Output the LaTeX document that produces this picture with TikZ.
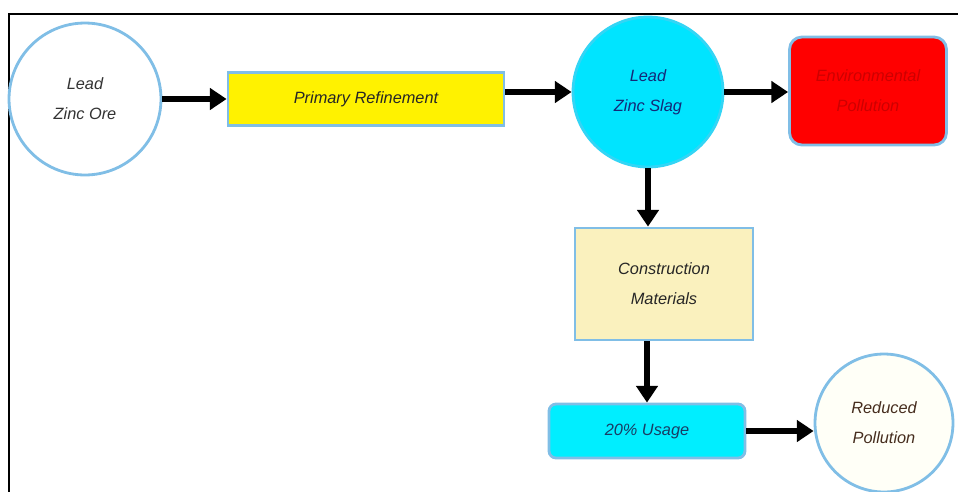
\documentclass[tikz,border=0pt]{standalone}
\usepackage{fontspec}
\setmainfont{Liberation Sans}
\usetikzlibrary{shapes,arrows.meta}

\definecolor{edgeblue}{RGB}{128,190,230}
\definecolor{slagcyan}{RGB}{0,228,255}
\definecolor{usagecyan}{RGB}{0,238,255}
\definecolor{creamfill}{RGB}{250,241,190}
\definecolor{pollred}{RGB}{255,0,0}
\definecolor{pollredtext}{RGB}{205,0,0}
\definecolor{slagtext}{RGB}{20,40,120}
\definecolor{usagetext}{RGB}{25,60,100}
\definecolor{reducedtext}{RGB}{70,45,30}

\begin{document}
\begin{tikzpicture}[x=0.02cm, y=-0.02cm, auto]
        \tikzstyle{txt} = [align=center, font=\fontsize{9.3}{17}\selectfont\itshape]
        \tikzstyle{round} = [circle, draw=edgeblue, line width=1.6pt, inner sep=0pt, txt]
        \tikzstyle{block} = [rectangle, draw=edgeblue, line width=1.6pt, inner sep=0pt, txt]
        \tikzstyle{line} = [draw, line width=3.2pt, -{Triangle[length=9.5pt, width=12pt]}]

    \useasboundingbox (0,0) rectangle (958,491);
    \draw [line width=1.7pt] (9,14) rectangle (975,510);

    \node [round, minimum size=3.04cm, fill=white, text=black!80] (ore) at (85,99) {Lead \\ Zinc Ore};
    \node [block, fill=yellow, text=black!85, minimum width=5.52cm, minimum height=1.06cm] (refinement) at (366,99) {Primary Refinement};
    \node [round, minimum size=3cm, fill=slagcyan, draw=slagcyan!60!edgeblue, text=slagtext] (slag) at (648,92) {Lead \\ Zinc Slag};
    \node [block, rounded corners=7pt, fill=pollred, text=pollredtext, minimum width=3.14cm, minimum height=2.16cm] (pollution) at (868,91) {Environmental \\ Pollution};

    \node [block, fill=creamfill, text=black!85, minimum width=3.56cm, minimum height=2.24cm] (construction) at (664,284) {Construction \\ Materials};
    \node [block, rounded corners=4pt, fill=usagecyan, text=usagetext, minimum width=3.92cm, minimum height=1.08cm] (usage) at (647,431) {20\% Usage};
    \node [round, minimum size=2.76cm, fill=white!97!yellow, text=reducedtext] (reduced) at (884,423) {Reduced \\ Pollution};

    \path [line] (ore.east) -- (ore.east -| refinement.west);
    \path [line] (refinement.east |- slag.west) -- (slag.west);
    \path [line] (slag.east) -- (slag.east -| pollution.west);
    \path [line] (slag.south) -- (slag.south |- construction.north);
    \path [line] (construction.south -| usage.north) -- (usage.north);
    \path [line] (usage.east) -- (usage.east -| reduced.west);
    \end{tikzpicture}
\end{document}
